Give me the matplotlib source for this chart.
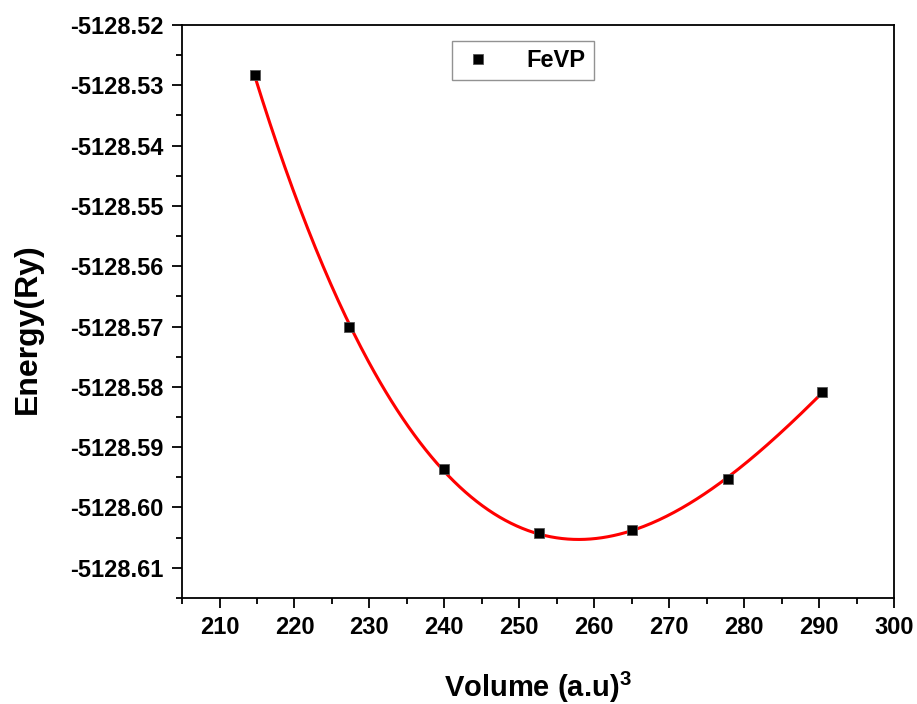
import numpy as np
import matplotlib
matplotlib.use('Agg')
import matplotlib.pyplot as plt
from matplotlib.ticker import MultipleLocator, FormatStrFormatter

plt.rcParams['font.family'] = ['Liberation Sans', 'DejaVu Sans']
plt.rcParams['font.weight'] = 'bold'
plt.rcParams['mathtext.fontset'] = 'custom'
plt.rcParams['mathtext.rm'] = 'Liberation Sans'

# E-V data for FeVP
volume = [214.7, 227.3, 239.9, 252.6, 265.1, 277.8, 290.4]
energy = [-5128.5283, -5128.5700, -5128.5936, -5128.6043, -5128.6038, -5128.5952, -5128.5809]

# cubic fit through the points
coef = np.polyfit(volume, energy, 3)
v_fit = np.linspace(min(volume), max(volume), 300)
e_fit = np.polyval(coef, v_fit)

fig = plt.figure(figsize=(9.17, 7.04), dpi=100)
ax = fig.add_axes([0.1985, 0.1506, 0.7765, 0.814])

ax.plot(v_fit, e_fit, color='red', lw=2.2, zorder=2)
ax.plot(volume, energy, 's', color='black', markersize=7.5,
        markeredgecolor='#555555', markeredgewidth=0.6, label='FeVP', zorder=3)

ax.set_xlim(205, 300)
ax.set_ylim(-5128.615, -5128.52)
ax.xaxis.set_major_locator(MultipleLocator(10))
ax.xaxis.set_minor_locator(MultipleLocator(5))
ax.yaxis.set_major_locator(MultipleLocator(0.01))
ax.yaxis.set_minor_locator(MultipleLocator(0.005))
ax.yaxis.set_major_formatter(FormatStrFormatter('%.2f'))

ax.tick_params(which='both', direction='out', width=1.3, top=False, right=False)
ax.tick_params(which='major', length=7, labelsize=17, pad=6)
ax.tick_params(which='minor', length=4)
for lab in ax.get_xticklabels() + ax.get_yticklabels():
    lab.set_fontweight('bold')
for sp in ax.spines.values():
    sp.set_linewidth(1.3)

ax.set_xlabel('Volume (a.u)$^{\\mathrm{3}}$', fontsize=21, fontweight='bold', labelpad=22)
ax.set_ylabel('Energy(Ry)', fontsize=23, fontweight='bold')
ax.yaxis.set_label_coords(-0.196, 0.47)

leg = ax.legend(loc='upper left', bbox_to_anchor=(0.379, 0.972), fontsize=17,
                frameon=True, fancybox=False, handletextpad=1.3,
                borderpad=0.35, borderaxespad=0, handlelength=1.5, markerscale=0.9)
leg.get_frame().set_edgecolor('#777777')
leg.get_frame().set_linewidth(1.0)
for t in leg.get_texts():
    t.set_fontweight('bold')

fig.savefig('out.png', dpi=100)
